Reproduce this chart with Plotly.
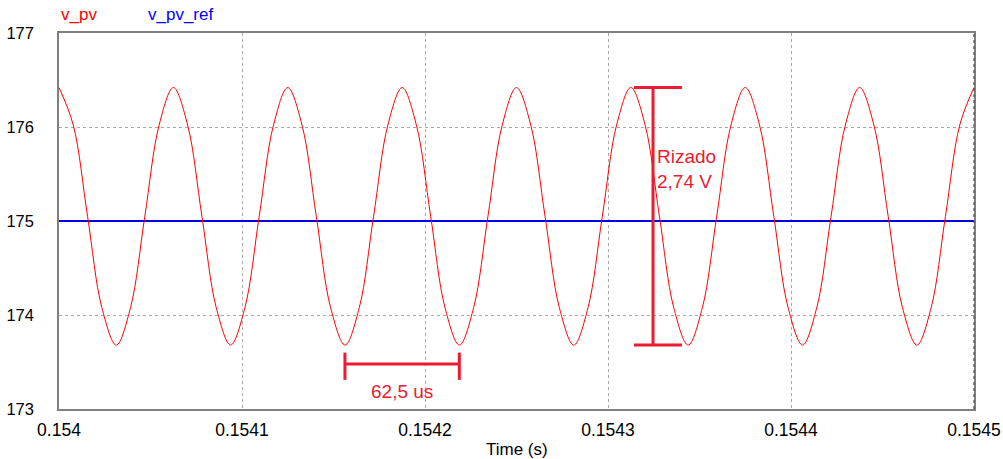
import plotly.graph_objects as go

# ---- data ----
t_us = [0, 7.8, 15.6, 23.4, 31.3, 39.1, 46.9, 54.7, 62.5, 70.3, 78.1, 85.9, 93.8, 101.6,
        109.4, 117.2, 125, 132.8, 140.6, 148.4, 156.3, 164.1, 171.9, 179.7, 187.5, 195.3,
        203.1, 210.9, 218.8, 226.6, 234.4, 242.2, 250, 257.8, 265.6, 273.4, 281.3, 289.1,
        296.9, 304.7, 312.5, 320.3, 328.1, 335.9, 343.8, 351.6, 359.4, 367.2, 375, 382.8,
        390.6, 398.4, 406.3, 414.1, 421.9, 429.7, 437.5, 445.3, 453.1, 460.9, 468.8, 476.6,
        484.4, 492.2, 500]
v_pv = [176.42, 176.02, 175.05, 174.08, 173.68, 174.08, 175.05, 176.02,
        176.42, 176.02, 175.05, 174.08, 173.68, 174.08, 175.05, 176.02,
        176.42, 176.02, 175.05, 174.08, 173.68, 174.08, 175.05, 176.02,
        176.42, 176.02, 175.05, 174.08, 173.68, 174.08, 175.05, 176.02,
        176.42, 176.02, 175.05, 174.08, 173.68, 174.08, 175.05, 176.02,
        176.42, 176.02, 175.05, 174.08, 173.68, 174.08, 175.05, 176.02,
        176.42, 176.02, 175.05, 174.08, 173.68, 174.08, 175.05, 176.02,
        176.42, 176.02, 175.05, 174.08, 173.68, 174.08, 175.05, 176.02,
        176.42]
v_pv_ref_value = 175.0
t_start = 0.154
x_tickvals = [0.154, 0.1541, 0.1542, 0.1543, 0.1544, 0.1545]
x_ticktext = ["0.154", "0.1541", "0.1542", "0.1543", "0.1544", "0.1545"]
y_tickvals = [173, 174, 175, 176, 177]

period_start_us = 156.25   # trough
period_end_us = 218.75     # next trough
period_bar_v = 173.48
period_cap_lo, period_cap_hi = 173.31, 173.60
ripple_t_us = 324.6
ripple_cap_lo_us, ripple_cap_hi_us = 314.2, 340.4
ripple_top, ripple_bot = 176.42, 173.68

t = [t_start + u * 1e-6 for u in t_us]
ref = [v_pv_ref_value for _ in t]

ann_red = "#ec1b30"
font_family = "Liberation Sans, Arial, sans-serif"

W, H = 1003, 459
ml, mr, mt, mb = 59, 29, 33, 50
pw, ph = W - ml - mr, H - mt - mb

fig = go.Figure()
fig.add_trace(go.Scatter(x=t, y=ref, mode="lines", line=dict(color="#0000ee", width=1.8),
                         name="v_pv_ref"))
fig.add_trace(go.Scatter(x=t, y=v_pv, mode="lines", line=dict(color="#ff0000", width=1, shape="spline"),
                         name="v_pv"))

def sec(u):
    return t_start + u * 1e-6

shapes = []
lw = 3
# period marker
shapes.append(dict(type="line", x0=sec(period_start_us), x1=sec(period_end_us), y0=period_bar_v, y1=period_bar_v,
                   line=dict(color=ann_red, width=lw)))
for u in (period_start_us, period_end_us):
    shapes.append(dict(type="line", x0=sec(u), x1=sec(u), y0=period_cap_lo, y1=period_cap_hi,
                       line=dict(color=ann_red, width=lw)))
# ripple marker
shapes.append(dict(type="line", x0=sec(ripple_t_us), x1=sec(ripple_t_us), y0=ripple_bot, y1=ripple_top,
                   line=dict(color=ann_red, width=lw)))
for v in (ripple_bot, ripple_top):
    shapes.append(dict(type="line", x0=sec(ripple_cap_lo_us), x1=sec(ripple_cap_hi_us), y0=v, y1=v,
                       line=dict(color=ann_red, width=lw)))
# right border drawn dashed dark like the reference
shapes.append(dict(type="line", xref="paper", yref="paper", x0=1, x1=1, y0=0, y1=1,
                   line=dict(color="#505050", width=1.2, dash="dot")))

annotations = [
    dict(x=sec((period_start_us + period_end_us) / 2), y=173.19, xref="x", yref="y", text="62,5 us",
         showarrow=False, font=dict(color=ann_red, size=19, family=font_family)),
    dict(x=sec(ripple_t_us + 1.0), y=175.55, xref="x", yref="y", text="Rizado<br>2,74 V",
         showarrow=False, xanchor="left", align="left",
         font=dict(color=ann_red, size=19, family=font_family)),
    dict(x=(59 - ml) / pw, y=(H - 14 - mb) / ph, xref="paper", yref="paper", text="v_pv",
         showarrow=False, xanchor="left", yanchor="middle",
         font=dict(color="#ff0000", size=17, family=font_family)),
    dict(x=(146 - ml) / pw, y=(H - 14 - mb) / ph, xref="paper", yref="paper", text="v_pv_ref",
         showarrow=False, xanchor="left", yanchor="middle",
         font=dict(color="#0000ff", size=17, family=font_family)),
    dict(x=0.5, y=-40 / ph, xref="paper", yref="paper", text="Time (s)",
         showarrow=False, xanchor="center", yanchor="middle",
         font=dict(color="#000000", size=17, family=font_family)),
]

fig.update_layout(
    width=W, height=H,
    margin=dict(l=ml, r=mr, t=mt, b=mb, pad=0),
    paper_bgcolor="white", plot_bgcolor="white",
    showlegend=False,
    shapes=shapes, annotations=annotations,
    font=dict(family=font_family, color="#000000", size=16),
)
fig.update_xaxes(range=[0.154, 0.1545], tickvals=x_tickvals, ticktext=x_ticktext,
                 showgrid=True, gridcolor="#a8a8a8", griddash="dot", gridwidth=1,
                 showline=True, linecolor="#808080", linewidth=1.5, mirror=True,
                 ticks="", ticklabelstandoff=4, zeroline=False, automargin=False,
                 tickfont=dict(size=17.5))
fig.update_yaxes(range=[173, 177], tickvals=y_tickvals,
                 showgrid=True, gridcolor="#a8a8a8", griddash="dot", gridwidth=1,
                 showline=True, linecolor="#808080", linewidth=1.5, mirror=True,
                 ticks="", ticklabelstandoff=20, zeroline=False, automargin=False,
                 tickfont=dict(size=16.5))

fig.write_html("out.html")
